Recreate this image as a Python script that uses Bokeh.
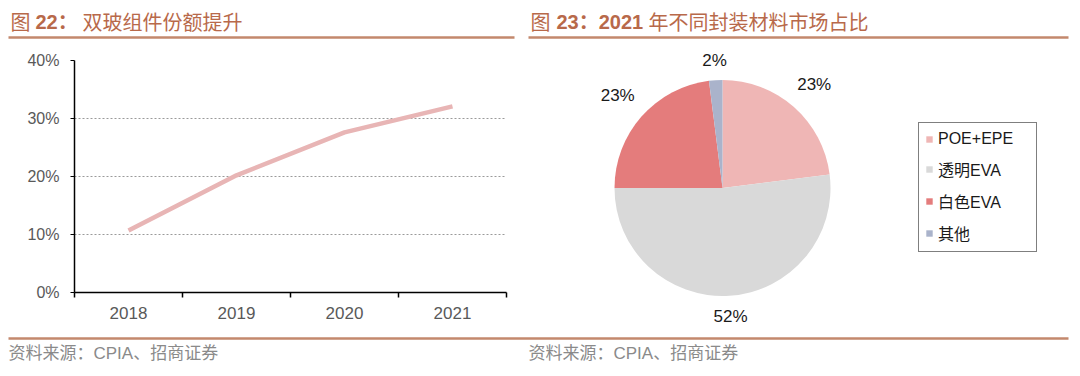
import math
from bokeh.plotting import figure
from bokeh.models import (Range1d, FixedTicker, NumeralTickFormatter, Legend,
                          LegendItem, ColumnDataSource)
from bokeh.layouts import column, row
from bokeh.embed import file_html
from bokeh.resources import INLINE
from bokeh.core.properties import value

# ---------------- data ----------------
years = ["2018", "2019", "2020", "2021"]
bifacial_share = [0.107, 0.202, 0.276, 0.321]
y_ticks = [0.0, 0.1, 0.2, 0.3, 0.4]

materials = ["POE+EPE", "透明EVA", "白色EVA", "其他"]
material_share = [23, 52, 23, 2]
material_colors = ["#efb6b5", "#d9d9d9", "#e47c7c", "#aab3cb"]

left_title = ["图", "22：", "双玻组件份额提升"]
right_title = ["图", "23：2021", "年不同封装材料市场占比"]
source_text = "资料来源：CPIA、招商证券"

# ---------------- styles ----------------
LAT = "Liberation Sans"
MIX = "Liberation Sans, Noto Sans CJK SC"
CJK = "Noto Sans CJK SC"
TITLE_COLOR = "#b8694a"
RULE_COLOR = "#c3886d"
LINE_COLOR = "#e8b5b5"
W, H = 1080, 376
TOP_H, MID_H = 40, 290
BOT_H = H - TOP_H - MID_H
BORDER_T, BORDER_B = 20, 38          # frame of the middle row: canvas y 60..292
FRAME_TOP = TOP_H + BORDER_T
FRAME_BOT = TOP_H + MID_H - BORDER_B


def blank_fig(w, h, xr, yr, **kw):
    f = figure(width=w, height=h, x_range=xr, y_range=yr,
               output_backend="svg", toolbar_location=None,
               x_axis_type=None, y_axis_type=None, **kw)
    f.grid.visible = False
    f.outline_line_color = None
    return f


def no_align(f):
    if "frame_align" in f.properties():
        f.frame_align = False


# ---------------- title strip ----------------
top = blank_fig(W, TOP_H, Range1d(0, W), Range1d(TOP_H, 0), min_border=0)
title_specs = [
    (left_title, [10, 35, 82]),
    (right_title, [530, 556, 648]),
]
for parts, xs in title_specs:
    for i, (txt, x) in enumerate(zip(parts, xs)):
        top.text(x=[x], y=[21], text=[txt],
                 text_font=value(MIX if i == 1 else CJK),
                 text_font_style="bold" if i == 1 else "normal",
                 text_font_size="20px", text_color=TITLE_COLOR,
                 text_align="left", text_baseline="middle")
top.segment(x0=[8, 528], y0=[37, 37], x1=[514, 1068], y1=[37, 37],
            line_color=RULE_COLOR, line_width=2.5)

# ---------------- left: line chart ----------------
n = len(years)
xs = [i + 0.5 for i in range(n)]
left = figure(width=540, height=MID_H, x_range=Range1d(0, n),
              y_range=Range1d(y_ticks[0], y_ticks[-1]),
              output_backend="svg", toolbar_location=None,
              min_border_left=74, min_border_right=34,
              min_border_top=BORDER_T, min_border_bottom=BORDER_B)
no_align(left)
left.outline_line_color = None
left.line(xs, bifacial_share, line_color=LINE_COLOR, line_width=4.5)

left.xaxis.ticker = FixedTicker(ticks=xs, minor_ticks=list(range(n + 1)))
left.xaxis.major_label_overrides = {x: y for x, y in zip(xs, years)}
left.xaxis.major_tick_line_color = None
left.xaxis.minor_tick_line_color = "black"
left.xaxis.minor_tick_in = 0
left.xaxis.minor_tick_out = 5
left.xaxis.minor_tick_line_width = 1.5
left.xaxis.major_label_standoff = 8
left.xaxis.major_label_text_font_size = "17px"

left.yaxis.ticker = FixedTicker(ticks=y_ticks)
left.yaxis.formatter = NumeralTickFormatter(format="0%")
left.yaxis.major_tick_line_color = "black"
left.yaxis.major_tick_in = 0
left.yaxis.major_tick_out = 4
left.yaxis.minor_tick_line_color = None
left.yaxis.major_label_standoff = 11
left.yaxis.major_label_text_font_size = "16px"

for ax in (left.xaxis, left.yaxis):
    ax.axis_line_color = "black"
    ax.axis_line_width = 1.5
    ax.major_label_text_font = LAT
    ax.major_label_text_color = "#595959"

left.xgrid.visible = False
left.ygrid.ticker = FixedTicker(ticks=y_ticks[1:])
left.ygrid.grid_line_color = "#9a9a9a"
left.ygrid.grid_line_dash = "2 2"
left.ygrid.grid_line_width = 1

# ---------------- right: pie ----------------
# frame = canvas x 540..1080, y 60..292 ; data y = -canvas y
pie = blank_fig(540, MID_H, Range1d(540, 1080), Range1d(-FRAME_BOT, -FRAME_TOP),
                min_border_left=0, min_border_right=0,
                min_border_top=BORDER_T, min_border_bottom=BORDER_B)
no_align(pie)
CX, CY, R = 722, -187.5, 108
GAP = 10
total = sum(material_share)
cum = 0
a0s, a1s, lx, ly, ltxt = [], [], [], [], []
for v in material_share:
    a0 = math.pi / 2 - 2 * math.pi * cum / total
    cum += v
    a1 = math.pi / 2 - 2 * math.pi * cum / total
    a0s.append(a0)
    a1s.append(a1)
    mid = (a0 + a1) / 2
    t = f"{v}%"
    hw, hh = 7 * len(t), 9
    d = R + GAP + hw * abs(math.cos(mid)) + hh * abs(math.sin(mid))
    lx.append(CX + d * math.cos(mid))
    ly.append(CY + d * math.sin(mid))
    ltxt.append(t)

src = ColumnDataSource(dict(start=a0s, end=a1s, color=material_colors, label=materials))
wr = pie.wedge(x=CX, y=CY, radius=R, start_angle="start", end_angle="end",
               direction="clock", fill_color="color", line_color=None, source=src)
wr.level = "overlay"
tr = pie.text(x=lx, y=ly, text=ltxt, text_font=value(LAT), text_font_size="17px",
              text_color="#1a1a1a", text_align="center", text_baseline="middle")
tr.level = "overlay"

legend = Legend(
    items=[LegendItem(label=m, renderers=[wr], index=i) for i, m in enumerate(materials)],
    location=(378, FRAME_BOT - 252), orientation="vertical",
    border_line_color="black", border_line_width=1.5,
    background_fill_color="white", background_fill_alpha=1.0,
    padding=6, spacing=8, margin=0,
    glyph_width=8, glyph_height=8, label_standoff=5,
    label_width=92, label_height=20,
    label_text_font=MIX, label_text_font_size="16px", label_text_color="#1a1a1a",
)
pie.add_layout(legend)

# ---------------- source strip ----------------
bot = blank_fig(W, BOT_H, Range1d(0, W), Range1d(H, H - BOT_H), min_border=0)
bot.segment(x0=[8], y0=[338], x1=[1068], y1=[338],
            line_color=RULE_COLOR, line_width=2.5)
bot.text(x=[8, 528], y=[353, 353], text=[source_text, source_text],
         text_font=value(MIX), text_font_size="17px", text_color="#8a8a8a",
         text_align="left", text_baseline="middle")

layout = column(top, row(left, pie), bot)
open("out.html", "w").write(file_html(layout, INLINE))
